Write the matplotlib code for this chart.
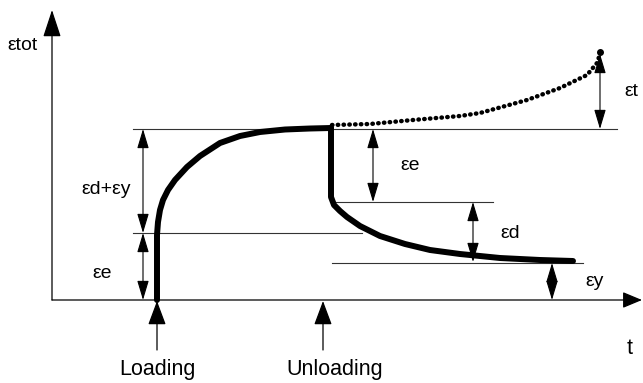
import matplotlib
matplotlib.use("Agg")
import matplotlib.pyplot as plt

plt.rcParams['font.family'] = ['Liberation Sans', 'DejaVu Sans']

# courbe de chargement (temps, déformation)
t_load = [157, 157, 158, 160, 163, 168, 175, 187, 200, 220, 240, 260, 285, 310, 331]
eps_load = [0, 65, 78, 90, 100, 110, 120, 133, 144, 157, 164, 168, 170.5, 171.5, 172]

# courbe de déchargement
t_unload = [331, 331, 334, 340, 347, 360, 380, 405, 430, 460, 500, 540, 573]
eps_unload = [172, 103, 95, 89, 83, 74, 64, 56, 50, 46, 42, 40, 39]

# fluage sans déchargement (pointillés)
t_creep = [332, 370, 413, 460, 480, 527, 560, 587, 597, 600]
eps_creep = [175, 176, 180, 184, 187, 200, 212, 225, 237, 246]

# lignes de repère : (t debut, t fin, niveau)
ref_lines = [(133, 617, 171), (133, 362, 67), (332, 493, 98), (332, 583, 37)]

# flèches de cote : (t, bas, haut)
dim_arrows = [(143, 67, 171), (143, 0, 67), (373, 98, 171), (473, 38, 98),
              (552, 0, 37), (600, 171, 246)]

# étiquettes
labels = [(23, 255, "εtot"), (106, 110, "εd+εy"), (102, 27, "εe"),
          (410, 134, "εe"), (510, 67, "εd"), (595, 18, "εy"), (631, 208, "εt")]
events = [(157, "Loading", 157), (323, "Unloading", 335)]

fig = plt.figure(figsize=(6.43, 3.83), dpi=100)
ax = fig.add_axes([0, 0, 1, 1])
ax.set_xlim(0, 643)
ax.set_ylim(-83, 300)
ax.axis('off')

# axes avec flèches
ax.annotate("", xy=(52, 290), xytext=(52, 0),
            arrowprops=dict(arrowstyle="-|>,head_length=0.85,head_width=0.28",
                            mutation_scale=20, color='black', lw=0.9,
                            shrinkA=0, shrinkB=0))
ax.annotate("", xy=(642, 0), xytext=(52, 0),
            arrowprops=dict(arrowstyle="-|>,head_length=0.6,head_width=0.25",
                            mutation_scale=20, color='black', lw=0.9,
                            shrinkA=0, shrinkB=0))

for t0, t1, lev in ref_lines:
    ax.plot([t0, t1], [lev, lev], color='#333333', lw=0.8)

for t, lo, hi in dim_arrows:
    ax.annotate("", xy=(t, hi), xytext=(t, lo),
                arrowprops=dict(arrowstyle="<|-|>,head_length=0.6,head_width=0.18",
                                mutation_scale=20, color='black', lw=0.8,
                                shrinkA=0, shrinkB=0))

ax.plot(t_load, eps_load, color='black', lw=4.3, solid_capstyle='round',
        solid_joinstyle='round')
ax.plot(t_unload, eps_unload, color='black', lw=4.3, solid_capstyle='round',
        solid_joinstyle='round')
ax.plot(t_creep, eps_creep, color='black', lw=3.2, linestyle=(0, (0.1, 1.2)),
        dash_capstyle='round')
ax.plot([t_creep[-1]], [eps_creep[-1] + 2], 'o', color='black', ms=4)

for t, name, tx in events:
    ax.annotate("", xy=(t, -1), xytext=(t, -50),
                arrowprops=dict(arrowstyle="-|>,head_length=0.75,head_width=0.28",
                                mutation_scale=20, color='black', lw=0.9,
                                shrinkA=0, shrinkB=0))
    ax.text(tx, -69, name, ha='center', va='center', fontsize=15.5)

ax.text(630, -48, "t", ha='center', va='center', fontsize=15.5)

for x, y, s in labels:
    ax.text(x, y, s, ha='center', va='center', fontsize=14)

fig.savefig("out.png", dpi=100)
